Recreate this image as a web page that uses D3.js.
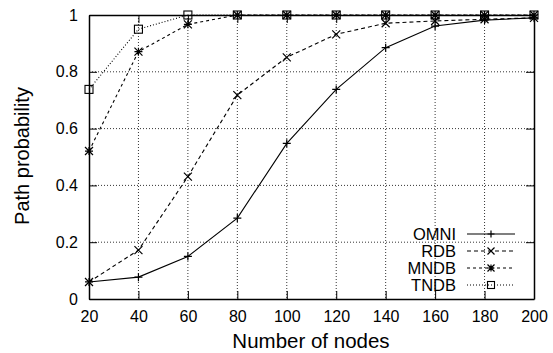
<!DOCTYPE html>
<html>
<head>
<meta charset="utf-8">
<script src="https://cdn.jsdelivr.net/npm/d3@7"></script>
<style>
  html, body { margin: 0; padding: 0; background: #fff; }
  svg text { font-family: "Liberation Sans", Arial, sans-serif; fill: #000; }
</style>
</head>
<body>
<svg id="chart" width="553" height="353"></svg>
<script>
// Node counts on the x axis
const nodes = [20, 40, 60, 80, 100, 120, 140, 160, 180, 200];

// Path probability per scheme
const omni = [0.06, 0.077, 0.15, 0.285, 0.548, 0.738, 0.885, 0.961, 0.982, 0.99];
const rdb  = [0.06, 0.172, 0.431, 0.718, 0.851, 0.932, 0.971, 0.979, 0.985, 0.99];
const mndb = [0.521, 0.871, 0.967, 1, 1, 1, 1, 1, 1, 1];
const tndb = [0.738, 0.95, 1, 1, 1, 1, 1, 1, 1, 1];

const seriesNames = ["OMNI", "RDB", "MNDB", "TNDB"];
const xTicks = [20, 40, 60, 80, 100, 120, 140, 160, 180, 200];
const yTicks = [0, 0.2, 0.4, 0.6, 0.8, 1];

const svg = d3.select("#chart");
const L = 89, R = 534, T = 15, B = 299;

const x = d3.scaleLinear().domain([20, 200]).range([L, R]);
const y = d3.scaleLinear().domain([0, 1]).range([B, T]);

// Grid
const grid = svg.append("g").attr("stroke", "#000").attr("stroke-width", 0.8)
  .attr("stroke-dasharray", "1,2");
xTicks.slice(1, -1).forEach(v => grid.append("line")
  .attr("x1", x(v)).attr("x2", x(v)).attr("y1", T).attr("y2", B));
yTicks.slice(1, -1).forEach(v => grid.append("line")
  .attr("x1", L).attr("x2", R).attr("y1", y(v)).attr("y2", y(v)));

// Axes with mirrored ticks
const fmt = d => d === 0 ? "0" : d === 1 ? "1" : d3.format(".1f")(d);
const ax = svg.append("g");
ax.append("g").attr("transform", `translate(0,${B})`)
  .call(d3.axisBottom(x).tickValues(xTicks).tickSize(-8).tickPadding(12).tickSizeOuter(0));
ax.append("g").attr("transform", `translate(0,${T})`)
  .call(d3.axisTop(x).tickValues(xTicks).tickSize(-8).tickFormat("").tickSizeOuter(0));
ax.append("g").attr("transform", `translate(${L},0)`)
  .call(d3.axisLeft(y).tickValues(yTicks).tickSize(-8).tickPadding(11).tickFormat(fmt).tickSizeOuter(0));
ax.append("g").attr("transform", `translate(${R},0)`)
  .call(d3.axisRight(y).tickValues(yTicks).tickSize(-8).tickFormat("").tickSizeOuter(0));
ax.selectAll(".domain").attr("stroke", "#000").attr("stroke-width", 1.5);
ax.selectAll(".tick line").attr("stroke", "#000").attr("stroke-width", 1);
ax.selectAll("g").attr("font-size", 16).attr("font-family", "Liberation Sans, Arial, sans-serif");
ax.selectAll(".tick text").attr("fill", "#000");

// Axis titles
svg.append("text").attr("x", 311).attr("y", 348).attr("text-anchor", "middle")
  .attr("font-size", 20.5).text("Number of nodes");
svg.append("text").attr("transform", "translate(29,156) rotate(-90)")
  .attr("text-anchor", "middle").attr("font-size", 20).text("Path probability");

// Markers
function marker(g, kind, cx, cy, s) {
  if (kind === "plus") {
    g.append("path").attr("d", `M${cx - s},${cy}H${cx + s}M${cx},${cy - s}V${cy + s}`)
      .attr("stroke", "#000").attr("stroke-width", 1.2).attr("fill", "none");
  } else if (kind === "cross") {
    g.append("path").attr("d", `M${cx - s},${cy - s}L${cx + s},${cy + s}M${cx - s},${cy + s}L${cx + s},${cy - s}`)
      .attr("stroke", "#000").attr("stroke-width", 1.2).attr("fill", "none");
  } else if (kind === "star") {
    g.append("path").attr("d", `M${cx - s},${cy}H${cx + s}M${cx},${cy - s}V${cy + s}M${cx - s},${cy - s}L${cx + s},${cy + s}M${cx - s},${cy + s}L${cx + s},${cy - s}`)
      .attr("stroke", "#000").attr("stroke-width", 1.2).attr("fill", "none");
  } else {
    g.append("rect").attr("x", cx - s).attr("y", cy - s).attr("width", 2 * s).attr("height", 2 * s)
      .attr("stroke", "#000").attr("stroke-width", 1.1).attr("fill", "none");
  }
}

const series = [
  { name: seriesNames[0], values: omni, dash: null, kind: "plus" },
  { name: seriesNames[1], values: rdb, dash: "4,3", kind: "cross" },
  { name: seriesNames[2], values: mndb, dash: "3,3", kind: "star" },
  { name: seriesNames[3], values: tndb, dash: "1,2", kind: "square" }
];

const line = d3.line().x(d => x(d[0])).y(d => y(d[1]));
series.forEach(s => {
  const pts = nodes.map((n, i) => [n, s.values[i]]);
  const g = svg.append("g");
  g.append("path").attr("d", line(pts)).attr("fill", "none").attr("stroke", "#000")
    .attr("stroke-width", 1.1).attr("stroke-dasharray", s.dash);
  pts.forEach(p => marker(g, s.kind, x(p[0]), y(p[1]), 4));
});

// Legend
const legY = [234, 251, 268, 285];
series.forEach((s, i) => {
  const g = svg.append("g");
  g.append("text").attr("x", 456).attr("y", legY[i]).attr("dy", "0.36em")
    .attr("text-anchor", "end").attr("font-size", 16.5).text(s.name);
  g.append("line").attr("x1", 467).attr("x2", 515).attr("y1", legY[i]).attr("y2", legY[i])
    .attr("stroke", "#000").attr("stroke-width", 1.1).attr("stroke-dasharray", s.dash);
  marker(g, s.kind, 491, legY[i], 3.5);
});
</script>
</body>
</html>
